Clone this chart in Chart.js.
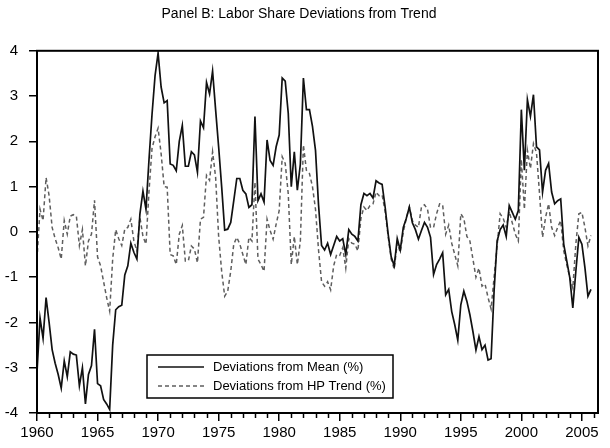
<!DOCTYPE html>
<html>
<head>
<meta charset="utf-8">
<script src="https://cdn.jsdelivr.net/npm/chart.js@4.4.1/dist/chart.umd.min.js"></script>
<style>
  html, body { margin: 0; padding: 0; background: #fff; }
</style>
</head>
<body>
<canvas id="grafico" width="610" height="448"></canvas>
<script>
// Panel B: labor share deviations, quarterly 1960Q1 - 2005Q4
const anoInicial = 1960;

const desvioMedia = [
  -3.1, -1.9, -2.35, -1.45, -2.0, -2.6, -2.9, -3.15, -3.45, -2.85, -3.2, -2.65,
  -2.7, -2.72, -3.4, -3.0, -3.8, -3.15, -2.95, -2.15, -3.35, -3.4, -3.7, -3.8,
  -3.92, -2.5, -1.72, -1.65, -1.62, -0.95, -0.75, -0.25, -0.45, -0.6, 0.4, 0.9,
  0.5, 1.6, 2.6, 3.45, 3.95, 3.2, 2.85, 2.9, 1.5, 1.47, 1.35, 2.0,
  2.35, 1.45, 1.45, 1.77, 1.7, 1.32, 2.45, 2.3, 3.3, 3.05, 3.55, 2.7,
  1.88, 1.0, 0.04, 0.06, 0.21, 0.69, 1.18, 1.18, 0.92, 0.84, 0.54, 0.6,
  2.55, 0.69, 0.84, 0.66, 2.03, 1.58, 1.47, 1.88, 2.14, 3.4, 3.33, 2.62,
  1.0, 1.77, 0.92, 1.5, 3.4, 2.7, 2.7, 2.33, 1.8, 0.6, -0.3, -0.4,
  -0.25, -0.5, -0.3, -0.1, -0.2, -0.15, -0.5, 0.05, -0.05, -0.1, -0.2, 0.6,
  0.85, 0.8, 0.85, 0.75, 1.13, 1.08, 1.05, 0.55, -0.05, -0.55, -0.75, -0.15,
  -0.4, 0.1, 0.3, 0.55, 0.2, 0.05, -0.16, 0.03, 0.21, 0.1, -0.12, -0.94,
  -0.72, -0.6, -0.46, -1.39, -1.27, -1.76, -2.05, -2.39, -1.61, -1.31, -1.53, -1.83,
  -2.2, -2.61, -2.31, -2.6, -2.5, -2.83, -2.8, -1.3, -0.2, 0.05, 0.15, -0.1,
  0.58, 0.43, 0.28, 0.47, 2.7, 1.36, 2.92, 2.55, 3.03, 1.88, 1.81, 0.88,
  1.36, 1.51, 0.88, 0.62, 0.69, 0.73, -0.27, -0.64, -1.01, -1.68, -0.87, -0.12,
  -0.27, -0.79, -1.42, -1.27
];

const desvioHP = [
  -0.6, 0.5, 0.25, 1.2, 0.8, 0.1, -0.15, -0.35, -0.6, 0.25, -0.05, 0.35,
  0.38, 0.35, -0.3, 0.05, -0.75, -0.2, -0.05, 0.7, -0.55, -0.75, -1.1, -1.45,
  -1.75, -0.6, 0.05, -0.15, -0.3, 0.06, 0.1, 0.28, -0.2, -0.42, 0.32, -0.1,
  -0.27, 0.9, 1.85, 2.1, 2.29, 1.73, 1.0, 0.99, -0.5, -0.53, -0.72, -0.05,
  0.14, -0.64, -0.64, -0.31, -0.38, -0.68, 0.28, 0.32, 1.25, 1.14, 1.77, 1.21,
  -0.1, -0.87, -1.42, -1.31, -0.87, -0.27, -0.12, -0.27, -0.5, -0.72, -0.12, -0.2,
  1.1, -0.6, -0.72, -0.87, 0.28, 0.03, -0.16, 0.17, 0.47, 1.66, 1.51, 0.84,
  -0.72, -0.1, -0.72, -0.2, 1.92, 1.36, 1.29, 1.0, 0.5, -0.4, -1.1, -1.2,
  -1.1, -1.28, -0.75, -0.5, -0.52, -0.35, -0.8, -0.15, -0.25, -0.27, -0.42, 0.3,
  0.55, 0.47, 0.58, 0.62, 0.88, 0.8, 0.82, 0.45, -0.1, -0.6, -0.82, -0.25,
  -0.45, 0.0, 0.3, 0.55, 0.25, 0.15, 0.1, 0.55, 0.6, 0.5, 0.1, 0.1,
  0.4, 0.62, 0.6, -0.05, 0.15, -0.25, -0.5, -0.75, 0.4, 0.3, -0.1, -0.2,
  -0.6, -1.0, -0.8, -1.2, -1.15, -1.45, -1.7, -1.0, -0.3, 0.4, 0.3, 0.1,
  0.45, 0.2, -0.05, -0.2, 1.6, 0.5, 1.8, 1.4, 1.95, 1.75, 0.85, -0.12,
  0.32, 0.62, 0.1, -0.08, 0.1, 0.25, -0.42, -0.72, -1.01, -1.24, -0.27, 0.4,
  0.43, 0.1, -0.31, -0.08
];

const anosRotulo = [1960, 1965, 1970, 1975, 1980, 1985, 1990, 1995, 2000, 2005];
const ticksY = [-4, -3, -2, -1, 0, 1, 2, 3, 4];
const titulo = 'Panel B: Labor Share Deviations from Trend';
const legendas = ['Deviations from Mean (%)', 'Deviations from HP Trend (%)'];

const fonte = "'Liberation Sans', Arial, Helvetica, sans-serif";
const trimestres = desvioMedia.map((_, i) => anoInicial + i / 4);

// frame, minor year ticks and the boxed legend
const moldura = {
  id: 'moldura',
  afterDraw(chart) {
    const { ctx, chartArea: a, scales } = chart;
    ctx.save();
    ctx.strokeStyle = '#000';
    ctx.lineWidth = 1.5;
    for (let ano = 1960; ano <= 2006; ano++) {
      if (ano % 5 === 0) continue;
      const x = Math.round(scales.x.getPixelForValue(ano)) + 0.5;
      ctx.beginPath();
      ctx.moveTo(x, a.bottom);
      ctx.lineTo(x, a.bottom + 5);
      ctx.stroke();
    }
    ctx.lineWidth = 2;
    ctx.strokeRect(a.left, a.top, a.right - a.left, a.bottom - a.top);

    // legend
    const bx = 147, by = 355, bw = 246, bh = 43;
    ctx.fillStyle = '#fff';
    ctx.fillRect(bx, by, bw, bh);
    ctx.lineWidth = 1.5;
    ctx.strokeRect(bx, by, bw, bh);
    ctx.font = '13px ' + fonte;
    ctx.textBaseline = 'middle';
    ctx.fillStyle = '#000';
    legendas.forEach((txt, i) => {
      const ds = chart.data.datasets[i];
      const y = by + 12 + i * 19;
      ctx.strokeStyle = ds.borderColor;
      ctx.lineWidth = ds.borderWidth;
      ctx.setLineDash(ds.borderDash || []);
      ctx.beginPath();
      ctx.moveTo(bx + 11, y);
      ctx.lineTo(bx + 57, y);
      ctx.stroke();
      ctx.setLineDash([]);
      ctx.fillText(txt, bx + 66, y);
    });
    ctx.restore();
  }
};

new Chart(document.getElementById('grafico').getContext('2d'), {
  type: 'line',
  data: {
    datasets: [
      {
        label: legendas[0],
        data: desvioMedia.map((v, i) => ({ x: trimestres[i], y: v })),
        borderColor: '#111',
        borderWidth: 1.7,
        pointRadius: 0,
        tension: 0
      },
      {
        label: legendas[1],
        data: desvioHP.map((v, i) => ({ x: trimestres[i], y: v })),
        borderColor: '#5e5e5e',
        borderWidth: 1.5,
        borderDash: [4, 3],
        pointRadius: 0,
        tension: 0
      }
    ]
  },
  options: {
    responsive: false,
    animation: false,
    layout: { padding: { left: 0, right: 12, top: 0, bottom: 0 } },
    plugins: {
      legend: { display: false },
      tooltip: { enabled: false },
      title: {
        display: true,
        text: titulo,
        color: '#000',
        font: { family: fonte, size: 14, weight: 'normal' },
        padding: { top: 6, bottom: 28 }
      }
    },
    scales: {
      x: {
        type: 'linear',
        min: 1960,
        max: 2006.33,
        afterBuildTicks: s => { s.ticks = anosRotulo.map(v => ({ value: v })); },
        afterFit: s => { s.height = 35; },
        border: { display: false },
        grid: { drawOnChartArea: false, tickLength: 8, color: '#000', lineWidth: 1.5 },
        ticks: { color: '#000', font: { family: fonte, size: 15 }, padding: 3, maxRotation: 0, autoSkip: false, callback: v => String(v) }
      },
      y: {
        min: -4,
        max: 4,
        afterBuildTicks: s => { s.ticks = ticksY.map(v => ({ value: v })); },
        afterFit: s => { s.width = 37; },
        border: { display: false },
        grid: { drawOnChartArea: false, tickLength: 8, color: '#000', lineWidth: 1.5 },
        ticks: { color: '#000', font: { family: fonte, size: 15 }, padding: 11, callback: v => String(v) }
      }
    }
  },
  plugins: [moldura]
});
</script>
</body>
</html>
